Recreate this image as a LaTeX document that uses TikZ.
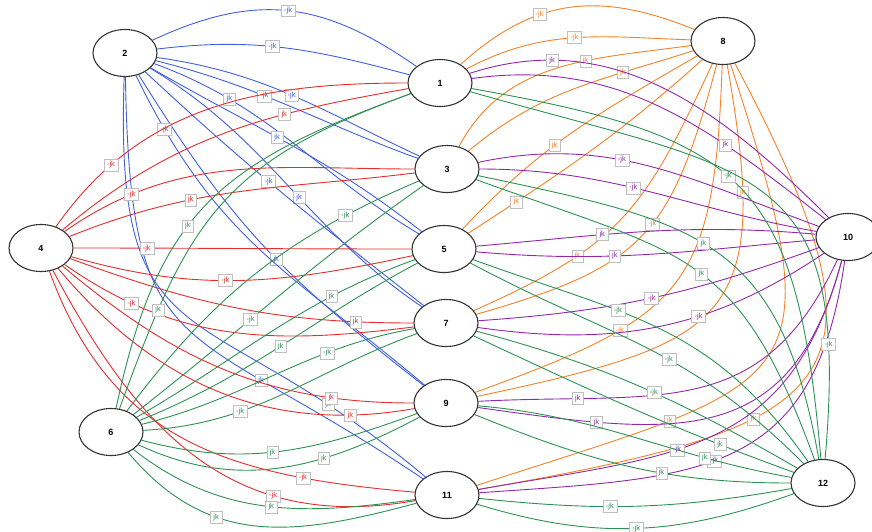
\documentclass[tikz,border=0pt]{standalone}
\usepackage{fontspec}
\setsansfont{Liberation Sans}
\usetikzlibrary{shapes.geometric}
\definecolor{cb}{RGB}{65,95,225}
\definecolor{cr}{RGB}{230,45,45}
\definecolor{cg}{RGB}{45,145,85}
\definecolor{co}{RGB}{245,130,40}
\definecolor{cp}{RGB}{145,40,170}
\pgfdeclarelayer{edges}
\pgfsetlayers{edges,main}
\begin{document}
\begin{tikzpicture}[x=1pt,y=1pt,
  vtx/.style={draw=black!80, line width=1.1pt, ellipse, fill=white, minimum width=64pt, minimum height=47pt, inner sep=0pt, font=\sffamily\bfseries\fontsize{9}{9}\selectfont},
  lab/.style={draw=black!25, fill=white, line width=0.4pt, inner xsep=3pt, inner ysep=2.5pt, font=\sffamily\fontsize{7.5}{7.5}\selectfont},
  eb/.style={cb, line width=0.9pt},
  er/.style={cr, line width=0.9pt},
  eg/.style={cg, line width=0.9pt},
  eo/.style={co, line width=0.9pt},
  ep/.style={cp, line width=0.9pt}]
\useasboundingbox (0,-531) rectangle (872,0);
\node[vtx] (n1) at (440,-83) {1};
\node[vtx] (n3) at (447,-169) {3};
\node[vtx] (n5) at (444,-249) {5};
\node[vtx] (n7) at (446,-323) {7};
\node[vtx] (n9) at (446,-403) {9};
\node[vtx] (n11) at (447,-495) {11};
\node[vtx] (n2) at (125,-53) {2};
\node[vtx] (n4) at (41,-248) {4};
\node[vtx] (n6) at (111,-432) {6};
\node[vtx] (n8) at (723,-41) {8};
\node[vtx] (n10) at (848,-237) {10};
\node[vtx] (n12) at (823,-483) {12};
\begin{pgfonlayer}{edges}
% node 2, blue
\foreach \t/\o/\i/\lo/\p/\l in {n1/25/145/1.1/.5/-jk, n1/7/165/1/.45/-jk, n3/-8/155/1/.5/-jk, n3/-14/160/1/.4/-jk, n5/-20/149/1/.25/jk, n5/-30/142/1/.45/jk, n7/-31/146/1/.55/jk, n7/-43/142/1/.45/-jk, n9/-58/142/1.1/.55/jk, n9/-64/140/1.1/.12/-jk, n11/-89/146/1.5/.72/jk, n11/-92/140/1.5/.84/jk}
  \draw[eb] (n2) to[out=\o,in=\i,looseness=\lo] node[lab,pos=\p]{\l} (\t);
% node 4, red
\foreach \t/\o/\i/\lo/\p/\l in {n1/55/180/1/.2/-jk, n1/40/190/1/.68/jk, n3/35/180/1/.2/-jk, n3/22/187/1/.35/jk, n5/0/180/1/.2/-jk, n5/-16/192/1/.45/-jk, n7/-20/180/1/.85/jk, n7/-35/187/1/.2/-jk, n9/-40/180/1/.8/jk, n9/-50/190/1/.85/jk, n11/-70/175/1.1/.78/-jk, n11/-62/190/1.1/.7/-jk}
  \draw[er] (n4) to[out=\o,in=\i,looseness=\lo] node[lab,pos=\p]{\l} (\t);
% node 6, green
\foreach \t/\o/\i/\lo/\p/\l in {n1/70/200/1.2/.2/jk, n1/78/200/1.2/.42/jk, n3/53/203/1/.8/-jk, n3/38/215/1/.4/-jk, n5/30/200/1/.73/jk, n5/22/208/1/.5/jk, n7/14/190/1/.7/-jk, n7/3/200/1/.33/-jk, n9/-15/200/1/.47/jk, n9/-25/208/1/.66/jk, n11/-50/195/1.1/.35/jk, n11/-38/188/1/.52/jk}
  \draw[eg] (n6) to[out=\o,in=\i,looseness=\lo] node[lab,pos=\p]{\l} (\t);
% node 8, orange
\foreach \t/\o/\i/\lo/\p/\l in {n1/42/158/1.1/.36/-jk, n1/28/178/1/.5/-jk, n3/62/188/1/.62/jk, n3/40/198/1/.72/jk, n5/47/210/1/.42/jk, n5/33/222/1/.18/jk, n7/24/245/1.2/.3/jk, n7/16/255/1.3/.55/-jk, n9/20/268/1.4/.3/-jk, n9/12/280/1.6/.8/jk, n11/18/288/1.8/.25/jk, n11/10/298/1.9/.35/jk}
  \draw[eo] (\t) to[out=\o,in=\i,looseness=\lo] node[lab,pos=\p]{\l} (n8);
% node 10, purple
\foreach \t/\o/\i/\lo/\p/\l in {n1/18/135/1/.2/jk, n1/8/142/1/.7/jk, n3/12/160/1/.41/-jk, n3/0/170/1/.45/-jk, n5/5/175/1/.36/jk, n5/-5/185/1/.4/jk, n7/4/200/1/.5/-jk, n7/-8/214/1/.62/-jk, n9/3/245/1.2/.2/jk, n9/-8/255/1.3/.22/jk, n11/10/255/1.2/.4/-jk, n11/4/262/1.3/.45/-jk}
  \draw[ep] (\t) to[out=\o,in=\i,looseness=\lo] node[lab,pos=\p]{\l} (n10);
% node 12, green
\foreach \t/\o/\i/\lo/\p/\l in {n1/-10/95/1.4/.46/-jk, n1/-16/85/1.5/.85/-jk, n3/-12/100/1.3/.46/jk, n3/-20/110/1.3/.52/jk, n5/-20/125/1.1/.36/-jk, n5/-28/135/1.1/.57/-jk, n7/-15/150/1/.54/-jk, n7/-25/160/1/.79/jk, n9/-5/170/1/.74/jk, n9/-22/180/1/.61/jk, n11/-6/190/1/.41/-jk, n11/-17/200/1/.5/-jk}
  \draw[eg] (\t) to[out=\o,in=\i,looseness=\lo] node[lab,pos=\p]{\l} (n12);
\end{pgfonlayer}
\end{tikzpicture}
\end{document}
